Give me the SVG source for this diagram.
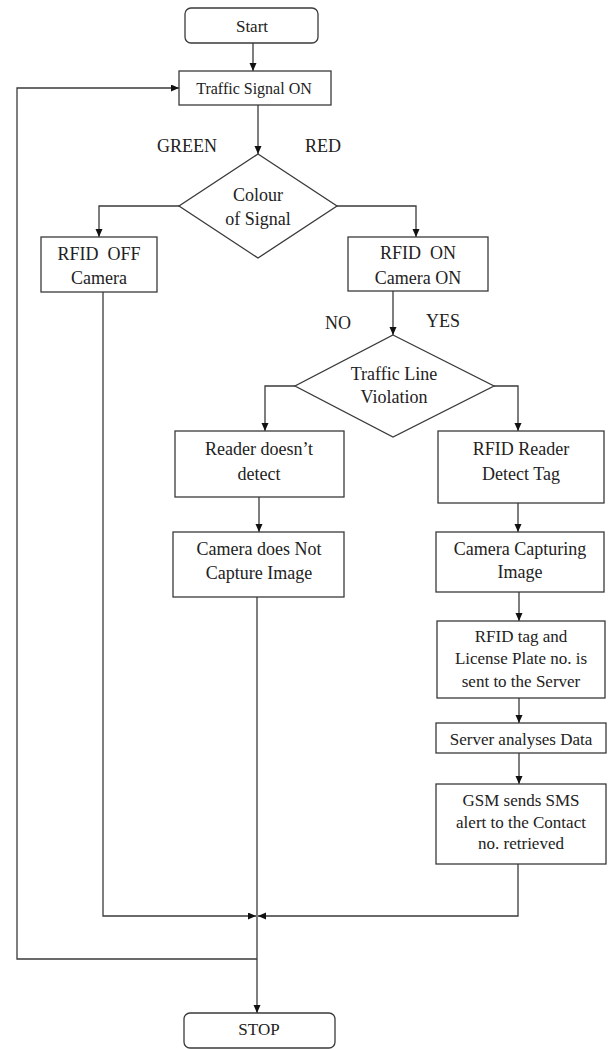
<svg xmlns="http://www.w3.org/2000/svg" width="612" height="1049" viewBox="0 0 612 1049">
<style>
.box{fill:#fff;stroke:#3a3a3a;stroke-width:1.3}
.ln{fill:none;stroke:#3a3a3a;stroke-width:1.3}
text{font-family:"Liberation Serif","Times New Roman",serif;fill:#222;text-anchor:middle;white-space:pre}
.t18{font-size:18px}
.t17{font-size:17px}
.t16{font-size:16px}
</style>
<defs>
<marker id="ah" markerUnits="userSpaceOnUse" markerWidth="9" markerHeight="8" refX="8" refY="3.5" orient="auto">
<path d="M0,0 L8,3.5 L0,7 z" fill="#111"/>
</marker>
</defs>
<rect width="612" height="1049" fill="#fff"/>
<g id="connectors">
<line class="ln" x1="253" y1="43" x2="253" y2="71" marker-end="url(#ah)"/>
<path class="ln" d="M257,959 H17 V88 H179" marker-end="url(#ah)"/>
<line class="ln" x1="258" y1="105" x2="258" y2="154" marker-end="url(#ah)"/>
<path class="ln" d="M179,206 H99 V237" marker-end="url(#ah)"/>
<path class="ln" d="M337,206 H416 V237" marker-end="url(#ah)"/>
<line class="ln" x1="393" y1="291" x2="393" y2="335" marker-end="url(#ah)"/>
<path class="ln" d="M295,386 H265 V431" marker-end="url(#ah)"/>
<path class="ln" d="M494,386 H518 V431" marker-end="url(#ah)"/>
<line class="ln" x1="259" y1="497" x2="259" y2="532" marker-end="url(#ah)"/>
<line class="ln" x1="518" y1="503" x2="518" y2="532" marker-end="url(#ah)"/>
<line class="ln" x1="519" y1="592" x2="519" y2="621" marker-end="url(#ah)"/>
<line class="ln" x1="519" y1="698" x2="519" y2="723" marker-end="url(#ah)"/>
<line class="ln" x1="519" y1="753" x2="519" y2="784" marker-end="url(#ah)"/>
<path class="ln" d="M103,292 V916 H256" marker-end="url(#ah)"/>
<path class="ln" d="M518,864 V916 H258" marker-end="url(#ah)"/>
<path class="ln" d="M257,597 V1013" marker-end="url(#ah)"/>
</g>
<g id="labels">
<text class="t18" x="187" y="152">GREEN</text>
<text class="t18" x="323" y="152">RED</text>
<text class="t18" x="338" y="329">NO</text>
<text class="t18" x="443" y="327">YES</text>
</g>
<g id="start">
<rect class="box" x="185" y="8" width="133" height="35" rx="6"/>
<text class="t17" x="252" y="32">Start</text>
</g>
<g id="signal">
<rect class="box" x="179" y="71" width="152" height="34"/>
<text class="t16" x="254" y="94">Traffic Signal ON</text>
</g>
<g id="colour">
<polygon class="box" points="258,154 337,206 258,258 179,206"/>
<text class="t18" x="258" y="201">Colour</text>
<text class="t18" x="258" y="225">of Signal</text>
</g>
<g id="rfidoff">
<rect class="box" x="41" y="237" width="116" height="55"/>
<text class="t18" x="99" y="260">RFID  OFF</text>
<text class="t18" x="99" y="284">Camera</text>
</g>
<g id="rfidon">
<rect class="box" x="348" y="237" width="140" height="54"/>
<text class="t18" x="418" y="259">RFID  ON</text>
<text class="t18" x="418" y="284">Camera ON</text>
</g>
<g id="violation">
<polygon class="box" points="393,335 494,386 393,437 295,386"/>
<text class="t18" x="394" y="380">Traffic Line</text>
<text class="t18" x="394" y="403">Violation</text>
</g>
<g id="reader">
<rect class="box" x="175" y="431" width="169" height="66"/>
<text class="t18" x="259" y="455">Reader doesn’t</text>
<text class="t18" x="259" y="480">detect</text>
</g>
<g id="nocapture">
<rect class="box" x="173" y="532" width="171" height="65"/>
<text class="t18" x="259" y="555">Camera does Not</text>
<text class="t18" x="259" y="579">Capture Image</text>
</g>
<g id="detect">
<rect class="box" x="438" y="431" width="166" height="72"/>
<text class="t18" x="521" y="455">RFID Reader</text>
<text class="t18" x="521" y="480">Detect Tag</text>
</g>
<g id="capture">
<rect class="box" x="436" y="532" width="168" height="60"/>
<text class="t18" x="520" y="555">Camera Capturing</text>
<text class="t18" x="520" y="578">Image</text>
</g>
<g id="sent">
<rect class="box" x="437" y="621" width="168" height="77"/>
<text class="t17" x="521" y="642">RFID tag and</text>
<text class="t17" x="521" y="664">License Plate no. is</text>
<text class="t17" x="521" y="687">sent to the Server</text>
</g>
<g id="server">
<rect class="box" x="436" y="723" width="170" height="30"/>
<text class="t17" x="521" y="745">Server analyses Data</text>
</g>
<g id="gsm">
<rect class="box" x="436" y="784" width="170" height="80"/>
<text class="t17" x="521" y="806">GSM sends SMS</text>
<text class="t17" x="521" y="828">alert to the Contact</text>
<text class="t17" x="521" y="849">no. retrieved</text>
</g>
<g id="stop">
<rect class="box" x="184" y="1013" width="151" height="35" rx="6"/>
<text class="t17" x="259" y="1035">STOP</text>
</g>
</svg>
